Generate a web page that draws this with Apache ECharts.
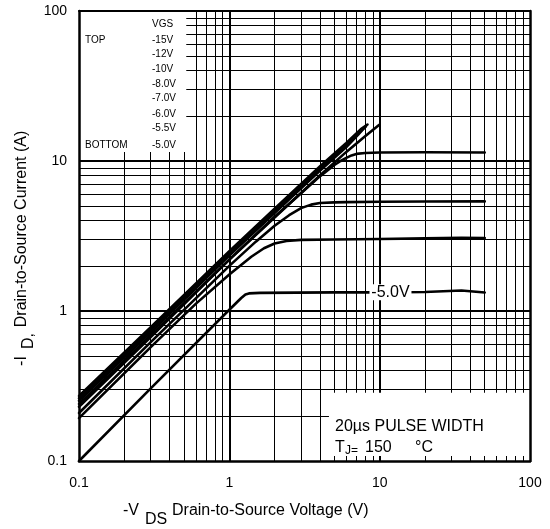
<!DOCTYPE html>
<html><head><meta charset="utf-8">
<script src="https://cdn.jsdelivr.net/npm/echarts@6/dist/echarts.min.js"></script>
<style>html,body{margin:0;padding:0;background:#fff}#c{width:550px;height:529px}</style>
</head><body><div id="c"></div>
<script>
// ---- data ----
const xTickLabels = [0.1, 1, 10, 100];
const yTickLabels = [0.1, 1, 10, 100];
const xMinorGrid = [0.2,0.3,0.4,0.5,0.6,0.7,0.8,0.9, 2,3,4,5,6,7,8,9, 20,30,40,50,60,70,80,90];
const yMinorGrid = [0.2,0.3,0.4,0.5,0.6,0.7,0.8,0.9, 2,3,4,5,6,7,8,9, 20,30,40,50,60,70,80,90];
const majorGrid = [1, 10];
const vgsLabels = ['-15V','-12V','-10V','-8.0V','-7.0V','-6.0V','-5.5V','-5.0V'];

const vgs15  = [[0.1,0.272],[0.3,0.78],[1,2.5],[2,4.8],[4,9.2],[6,13.2],[7.5,16.3],[8.3,17.5]];
const vgs12  = [[0.1,0.262],[0.3,0.75],[1,2.42],[2,4.65],[4,8.9],[6,12.8],[7.4,15.7],[8.1,17.0]];
const vgs10  = [[0.1,0.252],[0.3,0.72],[1,2.34],[2,4.5],[4,8.6],[6,12.4],[7.2,15.0],[7.9,16.6]];
const vgs8   = [[0.1,0.24],[0.3,0.69],[1,2.2],[2,4.2],[4,8.0],[6,11.5],[8,14.6],[9.9,17.4]];
const vgs7   = [[0.1,0.23],[0.3,0.67],[1,2.2],[2,4.25],[3,6.1],[4,7.9],[5,9.4],[5.5,10.0],[6,10.5],[6.5,10.9],[7,11.15],[8,11.3],[10,11.4],[20,11.45],[50,11.4]];
const vgs6   = [[0.1,0.209],[0.3,0.62],[1,2.0],[1.5,2.9],[2,3.7],[2.5,4.35],[3,4.85],[3.5,5.12],[4,5.25],[5,5.3],[6,5.32],[10,5.35],[20,5.37],[50,5.38]];
const vgs55  = [[0.1,0.193],[0.3,0.575],[0.6,1.12],[1,1.75],[1.4,2.3],[1.7,2.62],[2,2.82],[2.4,2.93],[3,2.98],[5,3.0],[10,3.02],[20,3.05],[35,3.08],[50,3.07]];
const vgs50  = [[0.1,0.1],[0.3,0.305],[1,1.02],[1.2,1.22],[1.28,1.29],[1.35,1.31],[1.6,1.32],[5,1.33],[10,1.33],[20,1.34],[35,1.37],[50,1.33]];
const curves = [vgs15, vgs12, vgs10, vgs8, vgs7, vgs6, vgs55, vgs50];

const whiteBoxes = [[0.1, 100, 0.517, 11.5], [4.6, 0.285, 100, 0.108]];
const label50At = [11.8, 1.335];

// ---- chart ----
const FF = 'Liberation Sans, Arial, Helvetica, sans-serif';
const chart = echarts.init(document.getElementById('c'), null, {renderer:'canvas'});

const gridLines = [];
xMinorGrid.forEach(v => gridLines.push({xAxis: v, lineStyle:{width:1}}));
yMinorGrid.forEach(v => gridLines.push({yAxis: v, lineStyle:{width:1}}));
majorGrid.forEach(v => { gridLines.push({xAxis: v, lineStyle:{width:2}}); gridLines.push({yAxis: v, lineStyle:{width:2}}); });

const series = [
  {
    type:'line', data:[[0.1,0.1]], showSymbol:false, lineStyle:{width:0}, z:1, silent:true,
    markLine:{z:1, silent:true, symbol:['none','none'], label:{show:false}, animation:false,
      lineStyle:{color:'#000', type:'solid', width:1}, emphasis:{disabled:true}, data: gridLines}
  },
  {
    type:'custom', data: whiteBoxes, z:2, silent:true, clip:false,
    dimensions:['x0','y0','x1','y1'], encode:{x:[0,2], y:[1,3]},
    renderItem:(params, api) => {
      const a = api.coord([api.value(0), api.value(1)]);
      const b = api.coord([api.value(2), api.value(3)]);
      return {type:'rect', shape:{x:Math.min(a[0],b[0]), y:Math.min(a[1],b[1]),
        width:Math.abs(b[0]-a[0]), height:Math.abs(b[1]-a[1])}, style:{fill:'#fff'}};
    }
  }
];
curves.forEach((c, i) => {
  const s = {
    type:'line', name: vgsLabels[i], data: c, showSymbol:false, smooth:false,
    lineStyle:{color:'#000', width:2.6, join:'round', cap:'round'}, z:3, silent:true
  };
  if (i === curves.length - 1) {
    s.markPoint = {silent:true, symbol:'rect', symbolSize:[42,16], itemStyle:{color:'#fff'},
      label:{show:true, formatter:'-5.0V', color:'#000', fontSize:16, fontFamily:FF},
      data:[{coord: label50At}]};
  }
  series.push(s);
});

const axisCommon = {type:'log', logBase:10, splitLine:{show:false}, axisTick:{show:false}, minorTick:{show:false}, z:10};

const t = (text, x, y, size, extra) => Object.assign({type:'text', x, y, z:100,
  style:{text, fontSize:size, fontFamily:FF, fill:'#000', align:'left', verticalAlign:'middle'}}, extra||{});
const tv = (text, x, y, size) => ({type:'text', x, y, rotation:Math.PI/2, z:100,
  style:{text, fontSize:size, fontFamily:FF, fill:'#000', align:'center', verticalAlign:'middle'}});

const legendY = [40, 54, 69, 84, 98, 114, 128, 145];
const graphics = [
  t('VGS', 152, 24, 10),
  t('TOP', 85, 40, 10),
  t('BOTTOM', 85, 145, 10),
  t('20µs PULSE WIDTH', 335, 427, 16),
  t('T', 335, 448, 16),
  t('J=', 345, 451, 12),
  t('150', 365, 448, 16),
  t('°C', 415, 448, 16),
  t('-V', 123, 511, 16),
  t('DS', 145, 520, 16),
  t('Drain-to-Source Voltage (V)', 172, 511, 16),
  tv('Drain-to-Source Current (A)', 22, 229, 16),
  tv('D,', 29, 341, 16),
  tv('-I', 22, 361, 16)
];
vgsLabels.forEach((l, i) => graphics.push(t(l, 152, legendY[i], 10)));

chart.setOption({
  animation:false,
  backgroundColor:'#fff',
  grid:{left:79, right:20, top:11, bottom:68, containLabel:false},
  xAxis:[
    Object.assign({}, axisCommon, {position:'bottom', min:0.1, max:100,
      axisLine:{show:true, lineStyle:{color:'#000', width:2.5}},
      axisLabel:{show:true, color:'#000', fontSize:14, fontFamily:FF, margin:15,
        formatter: v => xTickLabels.find(k => Math.abs(k - v) / k < 1e-6) !== undefined ? String(v) : ''}}),
    Object.assign({}, axisCommon, {position:'top', min:0.1, max:100,
      axisLine:{show:true, lineStyle:{color:'#000', width:2}}, axisLabel:{show:false}})
  ],
  yAxis:[
    Object.assign({}, axisCommon, {position:'left', min:0.1, max:100,
      axisLine:{show:true, lineStyle:{color:'#000', width:2.5}},
      axisLabel:{show:true, color:'#000', fontSize:14, fontFamily:FF, margin:12,
        formatter: v => yTickLabels.find(k => Math.abs(k - v) / k < 1e-6) !== undefined ? String(v) : ''}}),
    Object.assign({}, axisCommon, {position:'right', min:0.1, max:100,
      axisLine:{show:true, lineStyle:{color:'#000', width:2.5}}, axisLabel:{show:false}})
  ],
  series: series,
  graphic: graphics
});
</script></body></html>
